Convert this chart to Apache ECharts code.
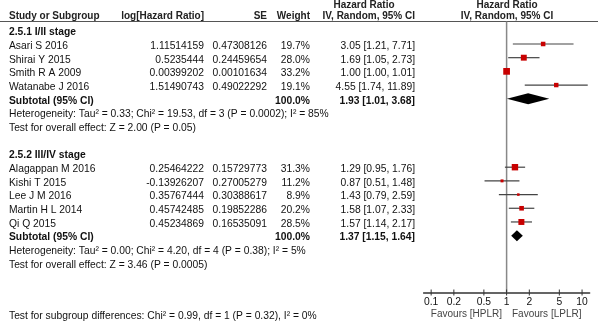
<!DOCTYPE html>
<html>
<head>
<meta charset="utf-8">
<script src="https://cdn.jsdelivr.net/npm/echarts@6/dist/echarts.min.js"></script>
<style>html,body{margin:0;padding:0;background:#fff}#c{width:600px;height:329px}</style>
</head>
<body>
<div id="c"></div>
<script>
// ---- data ----
const group1Title = '2.5.1 I/II stage';
const studies1 = ['Asari S 2016','Shirai Y 2015','Smith R A 2009','Watanabe J 2016'];
const logHR1 = [1.11514159, 0.5235444, 0.00399202, 1.51490743];
const se1 = [0.47308126, 0.24459654, 0.00101634, 0.49022292];
const weight1 = [19.7, 28.0, 33.2, 19.1];
const hr1 = [3.05, 1.69, 1.00, 4.55];
const lo1 = [1.21, 1.05, 1.00, 1.74];
const hi1 = [7.71, 2.73, 1.01, 11.89];

const group2Title = '2.5.2 III/IV stage';
const studies2 = ['Alagappan M 2016','Kishi T 2015','Lee J M 2016','Martin H L 2014','Qi Q 2015'];
const logHR2 = [0.25464222, -0.13926207, 0.35767444, 0.45742485, 0.45234869];
const se2 = [0.15729773, 0.27005279, 0.30388617, 0.19852286, 0.16535091];
const weight2 = [31.3, 11.2, 8.9, 20.2, 28.5];
const hr2 = [1.29, 0.87, 1.43, 1.58, 1.57];
const lo2 = [0.95, 0.51, 0.79, 1.07, 1.14];
const hi2 = [1.76, 1.48, 2.59, 2.33, 2.17];

const subtotalHR = [1.93, 1.37];
const subtotalLo = [1.01, 1.15];
const subtotalHi = [3.68, 1.64];
const heterogeneity = [
  'Heterogeneity: Tau\u00b2 = 0.33; Chi\u00b2 = 19.53, df = 3 (P = 0.0002); I\u00b2 = 85%',
  'Heterogeneity: Tau\u00b2 = 0.00; Chi\u00b2 = 4.20, df = 4 (P = 0.38); I\u00b2 = 5%'
];
const overallEffect = [
  'Test for overall effect: Z = 2.00 (P = 0.05)',
  'Test for overall effect: Z = 3.46 (P = 0.0005)'
];
const subgroupTest = 'Test for subgroup differences: Chi\u00b2 = 0.99, df = 1 (P = 0.32), I\u00b2 = 0%';
const tickValues = [0.1, 0.2, 0.5, 1, 2, 5, 10];
const tickLabels = ['0.1', '0.2', '0.5', '1', '2', '5', '10'];
const favours = ['Favours [HPLR]', 'Favours [LPLR]'];

// ---- layout ----
const FONT = '"Liberation Sans", Arial, sans-serif';
const FS = 10.3;
const ROW0 = 32.3, ROWH = 13.69;
const textY = k => ROW0 + ROWH * k;
const MARK_OFF = -2;
const GRID_TOP = 21.5, GRID_BOTTOM = 292.5;
const yMin = (GRID_TOP - (ROW0 + MARK_OFF)) / ROWH;
const yMax = (GRID_BOTTOM - (ROW0 + MARK_OFF)) / ROWH;

const COL = {study: 9, logHR: 204, se: 267, weight: 310, hr: 415, hrHead: 364, plot: 507};

function txt(x, y, s, align, bold, color, size) {
  return {
    type: 'text', silent: true,
    style: {
      x: x, y: y, text: s, textAlign: align || 'left', textVerticalAlign: 'middle',
      font: (bold ? 'bold ' : '') + (size || FS) + 'px ' + FONT,
      fill: color || '#111'
    }
  };
}
const fmtCI = (h, l, u) => h.toFixed(2) + ' [' + l.toFixed(2) + ', ' + u.toFixed(2) + ']';

const graphics = [];
const HS = 10;
graphics.push(txt(COL.hrHead, 5, 'Hazard Ratio', 'center', true, '#222', HS));
graphics.push(txt(COL.plot, 5, 'Hazard Ratio', 'center', true, '#222', HS));
graphics.push(txt(COL.study, 16.7, 'Study or Subgroup', 'left', true, '#222', HS));
graphics.push(txt(COL.logHR, 16.7, 'log[Hazard Ratio]', 'right', true, '#222', HS));
graphics.push(txt(COL.se, 16.7, 'SE', 'right', true, '#222', HS));
graphics.push(txt(COL.weight, 16.7, 'Weight', 'right', true, '#222', HS));
graphics.push(txt(COL.hr, 16.7, 'IV, Random, 95% CI', 'right', true, '#222', HS));
graphics.push(txt(COL.plot, 16.7, 'IV, Random, 95% CI', 'center', true, '#222', HS));
graphics.push({type: 'line', silent: true, shape: {x1: 0, y1: 21.5, x2: 598, y2: 21.5},
  style: {stroke: '#555', lineWidth: 1}});

const studyData = [];
const diamondData = [];
function addGroup(title, studies, logHR, se, weight, hr, lo, hi, gi, start) {
  graphics.push(txt(COL.study, textY(start), title, 'left', true));
  studies.forEach((s, i) => {
    const k = start + 1 + i;
    graphics.push(txt(COL.study, textY(k), s, 'left'));
    graphics.push(txt(COL.logHR, textY(k), String(logHR[i]), 'right'));
    graphics.push(txt(COL.se, textY(k), String(se[i]), 'right'));
    graphics.push(txt(COL.weight, textY(k), weight[i].toFixed(1) + '%', 'right'));
    graphics.push(txt(COL.hr, textY(k), fmtCI(hr[i], lo[i], hi[i]), 'right'));
    studyData.push([Math.log10(hr[i]), k, Math.log10(lo[i]), Math.log10(hi[i]), weight[i]]);
  });
  const ks = start + 1 + studies.length;
  graphics.push(txt(COL.study, textY(ks), 'Subtotal (95% CI)', 'left', true));
  graphics.push(txt(COL.weight, textY(ks), '100.0%', 'right', true));
  graphics.push(txt(COL.hr, textY(ks), fmtCI(subtotalHR[gi], subtotalLo[gi], subtotalHi[gi]), 'right', true));
  diamondData.push([Math.log10(subtotalHR[gi]), ks, Math.log10(subtotalLo[gi]), Math.log10(subtotalHi[gi])]);
  graphics.push(txt(COL.study, textY(ks + 1), heterogeneity[gi], 'left'));
  graphics.push(txt(COL.study, textY(ks + 2), overallEffect[gi], 'left'));
  return ks + 4;
}
let next = addGroup(group1Title, studies1, logHR1, se1, weight1, hr1, lo1, hi1, 0, 0);
addGroup(group2Title, studies2, logHR2, se2, weight2, hr2, lo2, hi2, 1, next);
graphics.push(txt(COL.study, 316.6, subgroupTest, 'left'));
graphics.push(txt(502, 314.5, favours[0], 'right', false, '#444', 10));
graphics.push(txt(512, 314.5, favours[1], 'left', false, '#444', 10));

const tickLog = tickValues.map(v => Math.log10(v));
const labelFor = v => {
  let best = 0;
  tickLog.forEach((t, i) => { if (Math.abs(t - v) < Math.abs(tickLog[best] - v)) best = i; });
  return tickLabels[best];
};

const chart = echarts.init(document.getElementById('c'), null, {renderer: 'canvas'});
chart.setOption({
  animation: false,
  graphic: graphics,
  grid: {left: 423.6, width: 166, top: GRID_TOP, height: GRID_BOTTOM - GRID_TOP},
  xAxis: {
    type: 'value', min: -1.1, max: 1.1, position: 'bottom',
    splitLine: {show: false},
    axisLine: {show: true, onZero: false, lineStyle: {color: '#333', width: 1.5}},
    axisTick: {show: false},
    axisLabel: {show: true, customValues: tickLog, margin: 5, formatter: v => labelFor(v),
      color: '#111', fontSize: FS, fontFamily: FONT}
  },
  yAxis: {type: 'value', inverse: true, min: yMin, max: yMax, show: false},
  series: [{
    // line of no effect (HR = 1)
    type: 'custom', silent: true, z: 1,
    data: [[0, yMin, yMax]],
    renderItem: (params, api) => {
      const a = api.coord([api.value(0), api.value(1)]);
      const b = api.coord([api.value(0), api.value(2)]);
      return {type: 'line', shape: {x1: a[0], y1: a[1], x2: b[0], y2: b[1]},
        style: {stroke: '#888', lineWidth: 1.5}};
    }
  }, {
    // crossing tick marks on the log axis
    type: 'custom', silent: true, z: 1,
    data: tickLog.map(v => [v, yMax]),
    renderItem: (params, api) => {
      const p = api.coord([api.value(0), api.value(1)]);
      return {type: 'line', shape: {x1: p[0], y1: p[1] - 3, x2: p[0], y2: p[1] + 3},
        style: {stroke: '#333', lineWidth: 1}};
    }
  }, {
    type: 'custom', silent: true, z: 3,
    data: studyData,
    renderItem: (params, api) => {
      const k = api.value(1);
      const c = api.coord([api.value(0), k]);
      const l = api.coord([api.value(2), k]);
      const h = api.coord([api.value(3), k]);
      const s = 0.485 * Math.pow(api.value(4), 0.75);
      return {type: 'group', children: [
        {type: 'line', shape: {x1: l[0], y1: c[1], x2: h[0], y2: c[1]}, style: {stroke: '#444', lineWidth: 1.2}},
        {type: 'rect', shape: {x: c[0] - s / 2, y: c[1] - s / 2, width: s, height: s}, style: {fill: '#c80000'}}
      ]};
    }
  }, {
    type: 'custom', silent: true, z: 3,
    data: diamondData,
    renderItem: (params, api) => {
      const k = api.value(1);
      const c = api.coord([api.value(0), k]);
      const l = api.coord([api.value(2), k]);
      const h = api.coord([api.value(3), k]);
      const hh = 5.5;
      return {type: 'polygon', shape: {points: [[l[0], c[1]], [c[0], c[1] - hh], [h[0], c[1]], [c[0], c[1] + hh]]},
        style: {fill: '#000'}};
    }
  }]
});
</script>
</body>
</html>
